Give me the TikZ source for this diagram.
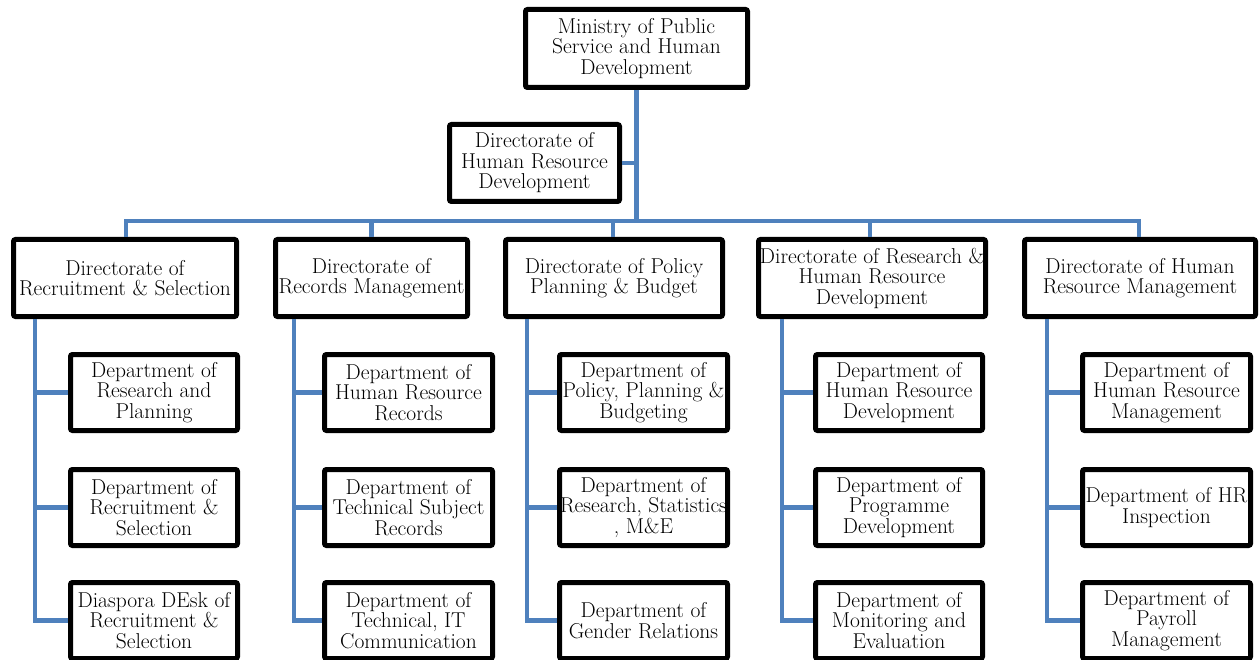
\documentclass[tikz,border=0pt]{standalone}
\usetikzlibrary{calc}
\definecolor{connblue}{RGB}{79,129,189}
\begin{document}
\begin{tikzpicture}[x=1pt,y=-1pt,
  box/.style={draw=black, line width=5pt, rounded corners=2pt, fill=white,
    inner sep=0pt, align=center, font=\fontsize{21.5}{20.5}\selectfont},
  dir/.style={box, minimum height=77pt},
  dept/.style={box, minimum height=76pt},
  conn/.style={draw=connblue, line width=4.5pt}]
\useasboundingbox (0,0) rectangle (1260,660);
\clip (0,0) rectangle (1260,660);
\fill[white] (0,0) rectangle (1260,660);

\coordinate (bus) at (0,221);
\coordinate (t1) at (35,319);
\coordinate (t2) at (294,319);
\coordinate (t3) at (527,319);
\coordinate (t4) at (782,319);
\coordinate (t5) at (1047,319);

% ---- nodes
\node[box, minimum width=222pt, minimum height=78pt] (min) at (636.5,48.5)
  {Ministry of Public\\Service and Human\\Development};
\node[box, minimum width=170pt, minimum height=77pt] (hrd) at (534.5,163)
  {Directorate of\\Human Resource\\Development};

\node[dir, minimum width=223pt] (d1) at (125,278) {Directorate of\\Recruitment \& Selection};
\node[dir, minimum width=192pt] (d2) at (371.5,278) {Directorate of\\Records Management};
\node[dir, minimum width=217pt] (d3) at (614,278) {Directorate of Policy\\Planning \& Budget};
\node[dir, minimum width=227pt] (d4) at (872,278) {Directorate of Research \&\\Human Resource\\Development};
\node[dir, minimum width=231pt] (d5) at (1140,278) {Directorate of Human\\Resource Management};

% column 1
\node[dept, minimum width=167pt] (c1a) at (154,392.5) {Department of\\Research and\\Planning};
\node[dept, minimum width=167pt] (c1b) at (154,507.5) {Department of\\Recruitment \&\\Selection};
\node[dept, minimum width=167pt] (c1c) at (154,620.5) {Diaspora DEsk of\\Recruitment \&\\Selection};
% column 2
\node[dept, minimum width=168pt] (c2a) at (408.5,392.5) {Department of\\Human Resource\\Records};
\node[dept, minimum width=168pt] (c2b) at (408.5,507.5) {Department of\\Technical Subject\\Records};
\node[dept, minimum width=168pt] (c2c) at (408.5,620.5) {Department of\\Technical, IT\\Communication};
% column 3
\node[dept, minimum width=168pt] (c3a) at (643.5,392.5) {Department of\\Policy, Planning \&\\Budgeting};
\node[dept, minimum width=168pt] (c3b) at (643.5,507.5) {Department of\\Research, Statistics\\, M\&E};
\node[dept, minimum width=168pt] (c3c) at (643.5,620.5) {Department of\\Gender Relations};
% column 4
\node[dept, minimum width=167pt] (c4a) at (899,392.5) {Department of\\Human Resource\\Development};
\node[dept, minimum width=167pt] (c4b) at (899,507.5) {Department of\\Programme\\Development};
\node[dept, minimum width=167pt] (c4c) at (899,620.5) {Department of\\Monitoring and\\Evaluation};
% column 5
\node[dept, minimum width=168pt] (c5a) at (1166.5,392.5) {Department of\\Human Resource\\Management};
\node[dept, minimum width=168pt] (c5b) at (1166.5,507.5) {Department of HR\\Inspection};
\node[dept, minimum width=168pt] (c5c) at (1166.5,620.5) {Department of\\Payroll\\Management};

% ---- connectors
\draw[conn] (min.south) -- (min.south |- bus);
\draw[conn] (hrd.east) -- (hrd.east -| min.south);
\draw[conn] ($(d1.north)+(1,0)$) |- ($(d5.north |- bus)+(-1,0)$) -- ($(d5.north)+(-1,0)$);
\draw[conn] (d2.north) -- (d2.north |- bus);
\draw[conn] ($(d3.north)+(-1,0)$) -- ($(d3.north |- bus)+(-1,0)$);
\draw[conn] ($(d4.north)+(-2,0)$) -- ($(d4.north |- bus)+(-2,0)$);

\draw[conn] (t1) |- (c1c.west);
\draw[conn] (c1a.west) -- (c1a.west -| t1);
\draw[conn] (c1b.west) -- (c1b.west -| t1);
\draw[conn] (t2) |- (c2c.west);
\draw[conn] (c2a.west) -- (c2a.west -| t2);
\draw[conn] (c2b.west) -- (c2b.west -| t2);
\draw[conn] (t3) |- (c3c.west);
\draw[conn] (c3a.west) -- (c3a.west -| t3);
\draw[conn] (c3b.west) -- (c3b.west -| t3);
\draw[conn] (t4) |- (c4c.west);
\draw[conn] (c4a.west) -- (c4a.west -| t4);
\draw[conn] (c4b.west) -- (c4b.west -| t4);
\draw[conn] (t5) |- (c5c.west);
\draw[conn] (c5a.west) -- (c5a.west -| t5);
\draw[conn] (c5b.west) -- (c5b.west -| t5);
\end{tikzpicture}
\end{document}
